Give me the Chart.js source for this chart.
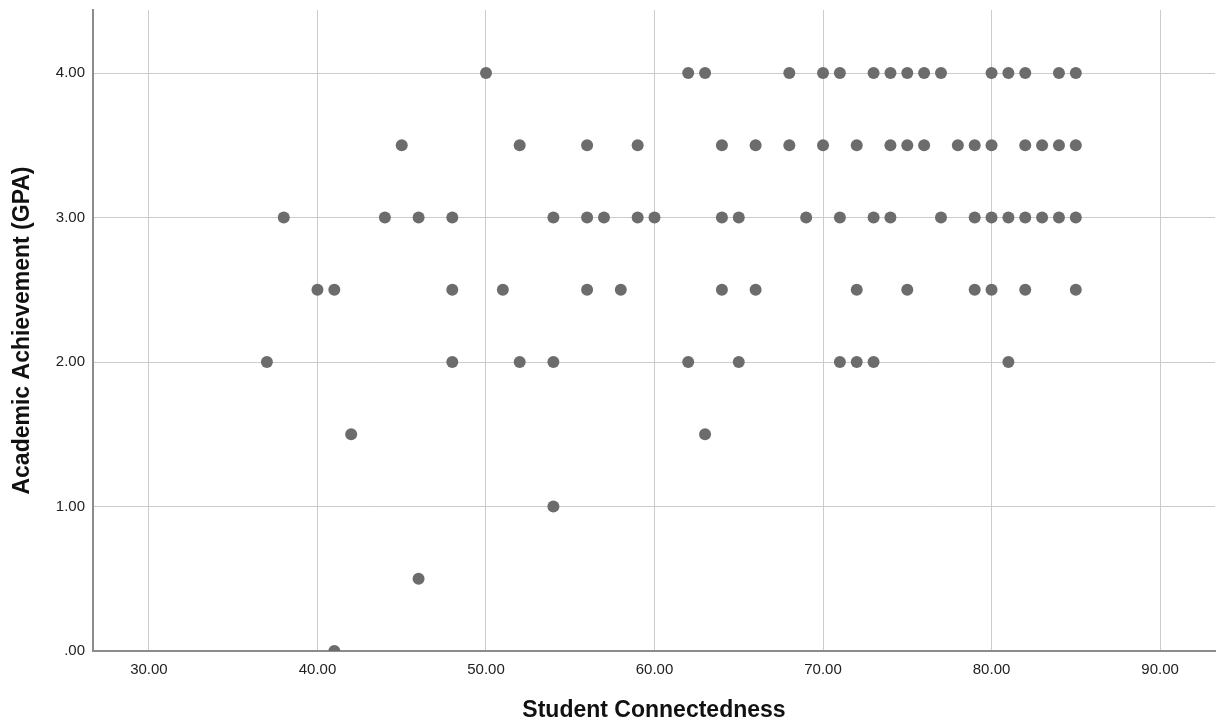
<!DOCTYPE html>
<html>
<head>
<meta charset="utf-8">
<title>Student Connectedness vs GPA</title>
<script src="https://cdn.jsdelivr.net/npm/chart.js@4/dist/chart.umd.min.js"></script>
<style>
  html, body { margin: 0; padding: 0; background: #fff; }
  #wrap { width: 1221px; height: 724px; }
</style>
</head>
<body>
<div id="wrap"><canvas id="scatter"></canvas></div>
<script>
// Student Connectedness scores, grouped by GPA level
const gpaLevels = [4.0, 3.5, 3.0, 2.5, 2.0, 1.5, 1.0, 0.5, 0.0];
const connectedAt4_0 = [50, 62, 63, 68, 70, 71, 73, 74, 75, 76, 77, 80, 81, 82, 84, 85];
const connectedAt3_5 = [45, 52, 56, 59, 64, 66, 68, 70, 72, 74, 75, 76, 78, 79, 80, 82, 83, 84, 85];
const connectedAt3_0 = [38, 44, 46, 48, 54, 56, 57, 59, 60, 64, 65, 69, 71, 73, 74, 77, 79, 80, 81, 82, 83, 84, 85];
const connectedAt2_5 = [40, 41, 48, 51, 56, 58, 64, 66, 72, 75, 79, 80, 82, 85];
const connectedAt2_0 = [37, 48, 52, 54, 62, 65, 71, 72, 73, 81];
const connectedAt1_5 = [42, 63];
const connectedAt1_0 = [54];
const connectedAt0_5 = [46];
const connectedAt0_0 = [41];

const xTicks = [30, 40, 50, 60, 70, 80, 90];
const yTicks = [0, 1, 2, 3, 4];

const groups = [connectedAt4_0, connectedAt3_5, connectedAt3_0, connectedAt2_5, connectedAt2_0,
                connectedAt1_5, connectedAt1_0, connectedAt0_5, connectedAt0_0];

// build point list
const points = [];
groups.forEach((xs, i) => {
  xs.forEach(x => points.push({ x: x, y: gpaLevels[i] }));
});

const fmt = v => (v === 0 ? '.00' : v.toFixed(2));
const tickFont = { family: '"Liberation Sans", Arial, sans-serif', size: 15 };
const titleFont = { family: '"Liberation Sans", Arial, sans-serif', size: 23, weight: 'bold', lineHeight: 1 };

new Chart(document.getElementById('scatter').getContext('2d'), {
  type: 'scatter',
  data: {
    datasets: [{
      data: points,
      pointRadius: 6,
      pointHoverRadius: 6,
      pointBackgroundColor: '#6c6c6c',
      pointBorderWidth: 0
    }]
  },
  options: {
    responsive: true,
    maintainAspectRatio: false,
    animation: false,
    events: [],
    layout: { padding: { top: 10, right: 4, bottom: 2, left: 0 } },
    plugins: {
      legend: { display: false },
      tooltip: { enabled: false }
    },
    scales: {
      x: {
        type: 'linear',
        min: 26.68,
        max: 93.26,
        afterBuildTicks: axis => { axis.ticks = xTicks.map(v => ({ value: v })); },
        afterFit: axis => { axis.height = 71; axis.paddingLeft = 0; axis.paddingRight = 0; },
        grid: { color: '#cccccc', lineWidth: 1, drawTicks: false },
        border: { color: '#8c8c8c', width: 2 },
        ticks: { color: '#222', font: tickFont, padding: 10, maxRotation: 0, callback: fmt },
        title: { display: true, text: 'Student Connectedness', color: '#111', font: titleFont, padding: { top: 0, bottom: 0 } }
      },
      y: {
        type: 'linear',
        min: 0,
        max: 4.436,
        afterBuildTicks: axis => { axis.ticks = yTicks.map(v => ({ value: v })); },
        afterFit: axis => { axis.width = 93; axis.paddingTop = 0; axis.paddingBottom = 0; },
        grid: {
          color: ctx => (ctx.tick && ctx.tick.value === 0 ? 'rgba(0,0,0,0)' : '#cccccc'),
          lineWidth: 1,
          drawTicks: false
        },
        border: { color: '#8c8c8c', width: 2 },
        ticks: { color: '#222', font: tickFont, padding: 8, callback: fmt },
        title: { display: true, text: 'Academic Achievement (GPA)', color: '#111', font: titleFont, padding: { top: 11, bottom: 0 } }
      }
    }
  }
});
</script>
</body>
</html>
